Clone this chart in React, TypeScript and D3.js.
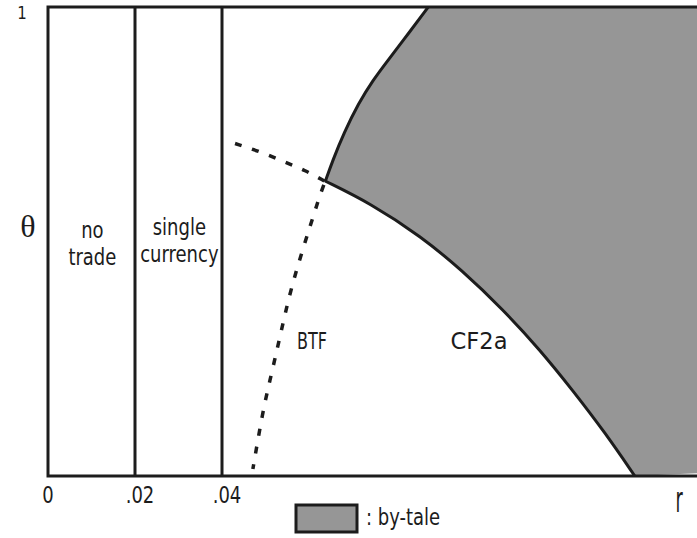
import React from 'react';
import * as d3 from 'd3';

// boundaries, as [r, theta]
const upperBoundary: [number, number][] = [
  [0.0637, 0.627], [0.0655, 0.674], [0.068, 0.731], [0.0714, 0.795],
  [0.0747, 0.844], [0.0782, 0.887], [0.083, 0.945], [0.0874, 1.0],
];
const cf2aCurve: [number, number][] = [
  [0.0637, 0.629], [0.074, 0.582], [0.0859, 0.51], [0.0951, 0.439],
  [0.1047, 0.354], [0.1131, 0.269], [0.1206, 0.183], [0.1281, 0.092], [0.1349, 0.0],
];
const bottomEdge: [number, number][] = [[0.1349, 0.0], [0.15, 0.006]];
const btfUpper: [number, number][] = [
  [0.043, 0.709], [0.0487, 0.692], [0.0545, 0.669], [0.0591, 0.652], [0.0637, 0.628],
];
const btfLower: [number, number][] = [
  [0.0637, 0.628], [0.0625, 0.598], [0.0614, 0.566], [0.0563, 0.417],
  [0.054, 0.325], [0.0526, 0.267], [0.051, 0.203], [0.0494, 0.139], [0.0471, 0.015],
];
const verticals = [0.02, 0.04];
const xTicks = [0, 0.02, 0.04];
const xTickLabels = ['0', '.02', '.04'];

const regionLabels = [
  { lines: ['no', 'trade'], r: 0.0102, theta: 0.508 },
  { lines: ['single', 'currency'], r: 0.0302, theta: 0.513 },
];
const curveLabels = [
  { text: 'BTF', r: 0.0607, theta: 0.27, len: 30 },
  { text: 'CF2a', r: 0.0991, theta: 0.27, len: 57 },
];
const legendLabel = ': by-tale';

const W = 697;
const H = 538;
const GRAY = '#969696';
const INK = '#1c1c1c';

const x = d3.scaleLinear().domain([0, 0.15]).range([48, 48 + 0.15 * 4350]);
const y = d3.scaleLinear().domain([0, 1]).range([476, 7]);

const smooth = d3.line<[number, number]>()
  .x(d => x(d[0]))
  .y(d => y(d[1]))
  .curve(d3.curveBasis);
const straight = d3.line<[number, number]>()
  .x(d => x(d[0]))
  .y(d => y(d[1]));

const sans = '"DejaVu Sans", sans-serif';

const Label = ({ x0, y0, text, size = 17, sy = 1.25, sx = 1, anchor = 'middle', len }: any) => (
  <text
    transform={`translate(${x0},${y0}) scale(${sx},${sy})`}
    fontFamily={sans}
    fontSize={size}
    textAnchor={anchor}
    fill={INK}
    {...(len ? { textLength: len, lengthAdjust: 'spacingAndGlyphs' } : {})}
  >
    {text}
  </text>
);

export default function App() {
  const upperRev = [...upperBoundary].reverse();
  const fillPath =
    smooth(upperRev)! +
    smooth(cf2aCurve)!.replace(/^M/, 'L') +
    straight(bottomEdge)!.replace(/^M/, 'L') +
    `L${x(0.15)},${y(1)}Z`;

  return (
    <svg width={W} height={H} style={{ position: 'absolute', left: 0, top: 0, background: '#fff' }}>
      <path d={fillPath} fill={GRAY} stroke="none" />

      {/* boundaries */}
      <path d={smooth(upperBoundary)!} fill="none" stroke={INK} strokeWidth={3} />
      <path d={smooth(cf2aCurve)!} fill="none" stroke={INK} strokeWidth={3} />
      <path d={smooth(btfUpper)!} fill="none" stroke={INK} strokeWidth={3.5} strokeDasharray="7 11" />
      <path d={smooth(btfLower)!} fill="none" stroke={INK} strokeWidth={3.5} strokeDasharray="7 11" strokeDashoffset={-4} />

      {verticals.map(v => (
        <line key={v} x1={x(v)} x2={x(v)} y1={y(0)} y2={y(1)} stroke={INK} strokeWidth={3} />
      ))}

      {/* frame */}
      <path
        d={`M${x(0.16)},${y(1)}L${x(0)},${y(1)}L${x(0)},${y(0)}L${x(0.16)},${y(0)}`}
        fill="none"
        stroke={INK}
        strokeWidth={3}
        strokeLinejoin="miter"
      />

      {/* axis labels */}
      {xTicks.map((t, i) => (
        <Label key={t} x0={x(t) + (i === 0 ? 0 : 5)} y0={y(0) + 27} text={xTickLabels[i]} size={18} />
      ))}
      <Label x0={22} y0={19} text="1" size={15} sy={1.15} />
      <text x={28} y={237} fontFamily='"Liberation Serif", serif' fontSize={32} textAnchor="middle" fill={INK}>
        θ
      </text>
      <Label x0={679} y0={512} text="r" size={22} sx={0.8} sy={1.65} />

      {regionLabels.map(l =>
        l.lines.map((s, k) => (
          <Label key={s} x0={x(l.r)} y0={y(l.theta) + k * 27} text={s} size={18} />
        ))
      )}
      {curveLabels.map(l => (
        <Label key={l.text} x0={x(l.r)} y0={y(l.theta)} text={l.text} len={l.len} size={18} />
      ))}

      {/* legend */}
      <rect x={296} y={505} width={61} height={27} fill={GRAY} stroke={INK} strokeWidth={3} />
      <Label x0={366} y0={525} text={legendLabel} anchor="start" size={18} />
    </svg>
  );
}
